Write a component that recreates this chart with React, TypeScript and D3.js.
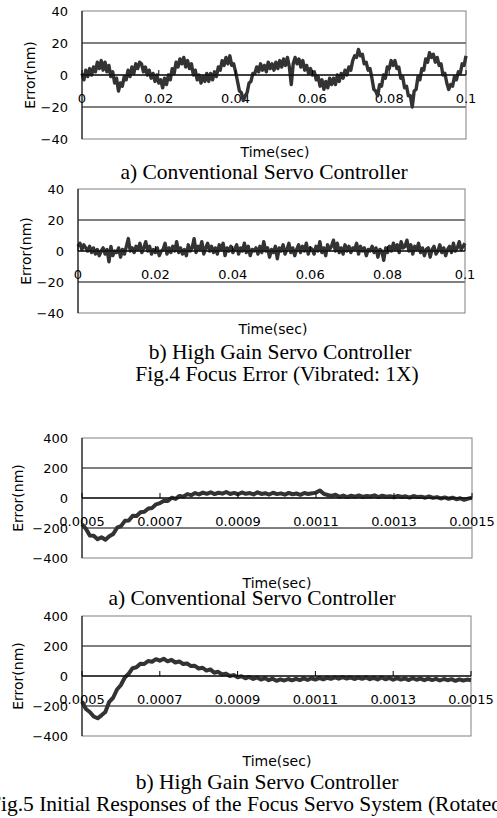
import * as d3 from 'd3';
import React from 'react';

// Fig.4 focus error, vibrated 1X: samples every 0.5 ms from 0 to 0.1 s (nm)
const fig4Conventional = [
  1, -3, 3, -1, 4, 0, 5, 2, 8, 4, 9,
  3, 8, 2, 6, -1, 2, -5, -2, -10, -5,
  -7, -1, -3, 3, -1, 5, 1, 7, 4, 8,
  7, 2, 5, 0, 3, -2, 1, -4, 0, -5,
  -3, -8, -2, -6, 0, -3, 4, 1, 8, 5,
  10, 7, 11, 5, 9, 4, 7, 0, 3, -3,
  0, -5, -1, -4, 1, -4, 1, -3, 2, -1,
  5, 3, 9, 6, 11, 7, 12, 6, 7, 2,
  -4, -10, -11, -16, -13, -11, -5, -4, 1, 1,
  5, 2, 7, 3, 6, 2, 8, 4, 7, 3,
  8, 4, 9, 5, 10, 6, 11, 5, -6, 7,
  11, 7, 10, 5, 9, 3, 6, 1, 4, 0,
  2, -3, -1, -7, -3, -9, -4, -8, -2, -6,
  -2, -6, 0, -4, 1, -2, 3, 0, 5, 3,
  9, 12, 11, 16, 12, 13, 7, 8, 3, 4,
  -2, -9, -10, -13, -6, -7, 0, -2, 5, 4,
  9, 6, 9, 4, 5, -2, -1, -8, -7, -13,
  -13, -20, -10, -9, -1, -3, 4, 3, 10, 8,
  14, 11, 13, 8, 11, 6, 7, 0, 1, -5,
  -9, -6, -7, -1, -3, 2, 1, 7, 6, 12,
];

const fig4HighGain = [
  3, 5, 1, 4, 2, 0, 3, -1, 2, -2, 1,
  -3, 0, 2, -2, 1, -7, 3, -3, 0, -1,
  2, -4, 1, -2, 3, 8, 0, 2, -1, 3,
  1, 5, -1, 2, 6, 0, 3, -2, 1, -1,
  2, -3, 0, 1, 5, -2, 2, -1, 3, 0,
  6, -1, 2, -2, 1, -3, 4, 0, 2, 8,
  -1, 3, 1, 6, -2, 2, 5, 0, 3, -1,
  2, -2, 4, 1, 5, -3, 2, 0, 3, -1,
  1, 4, -2, 2, 0, 5, -1, 3, -3, 1,
  0, 2, -2, 3, -1, 6, 0, 2, -4, 1,
  -1, 3, -5, 2, 0, 4, -2, 1, 5, -1,
  2, -3, 1, 4, -1, 3, 0, 5, -2, 2,
  1, -2, 3, 0, 6, -1, 2, -3, 4, 1,
  3, 7, 0, 5, -1, 2, -2, 4, 0, 3,
  -1, 2, 1, 5, -2, 3, 0, 2, -3, 1,
  0, 3, -1, 2, -4, 1, 0, -6, 2, -1,
  3, 0, 5, 1, 4, -1, 6, 2, 3, 7,
  0, 4, -2, 3, 1, 5, -1, 2, -3, 1,
  2, -4, 1, 3, -2, 0, 4, -1, 2, -3,
  1, 3, -1, 5, 0, 2, 6, 1, 3, 5,
];

const fig4Start = 0;
const fig4Step = 0.0005;
const fig4XTicks = [0, 0.02, 0.04, 0.06, 0.08, 0.1];
const fig4XLabels = ['0', '0.02', '0.04', '0.06', '0.08', '0.1'];
const fig4YTicks = [40, 20, 0, -20, -40];

// Fig.5 initial response, rotated 1X: samples every 10 us from 0.5 ms to 1.5 ms (nm)
const fig5Conventional = [
  -175, -205, -250, -252, -275, -262, -278, -255, -240, -198,
  -188, -152, -150, -118, -120, -95, -92, -70, -66, -42,
  -34, -18, -20, 2, -6, 14, 9, 26, 19, 33,
  24, 36, 28, 38, 26, 35, 29, 40, 27, 34,
  25, 37, 28, 33, 24, 38, 27, 32, 23, 35,
  26, 31, 22, 34, 25, 30, 21, 33, 27, 31,
  36, 50, 28, 20, 14, 22, 8, 16, 6, 15,
  9, 17, 7, 14, 10, 18, 6, 15, 8, 12,
  5, 14, 7, 11, 3, 13, 6, 9, 2, 10,
  1, 6, -3, 4, -5, 2, -8, -2, -12, -4, 2,
];

const fig5HighGain = [
  -170, -220, -240, -270, -282, -262, -240, -172, -145, -90,
  -60, -10, 15, 52, 58, 82, 80, 100, 95, 112,
  102, 115, 98, 108, 90, 97, 80, 84, 66, 68,
  50, 55, 36, 44, 22, 28, 10, 16, 0, 6,
  -8, -2, -15, -6, -20, -10, -24, -14, -28, -18,
  -32, -22, -30, -20, -29, -19, -27, -16, -26, -15,
  -24, -13, -22, -12, -19, -9, -18, -8, -17, -10,
  -20, -11, -19, -9, -21, -12, -23, -10, -22, -13,
  -25, -14, -24, -16, -27, -15, -25, -17, -28, -18,
  -27, -19, -30, -20, -28, -21, -32, -22, -30, -24, -28,
];

const fig5Start = 0.0005;
const fig5Step = 0.00001;
const fig5XTicks = [0.0005, 0.0007, 0.0009, 0.0011, 0.0013, 0.0015];
const fig5XLabels = ['0.0005', '0.0007', '0.0009', '0.0011', '0.0013', '0.0015'];
const fig5YTicks = [400, 200, 0, -200, -400];

const sans = '"DejaVu Sans", sans-serif';
const serif = '"Liberation Serif", "Times New Roman", serif';

const fmtY = (v: number) => (v < 0 ? '\u2212' + Math.abs(v) : String(v));

function Panel({ values, t0, dt, xTicks, xLabels, yTicks, left, right, top, bottom, titleX, timeX, timeY, lineWidth }) {
  const x = d3.scaleLinear().domain([xTicks[0], xTicks[xTicks.length - 1]]).range([left, right]);
  const y = d3.scaleLinear().domain([yTicks[yTicks.length - 1], yTicks[0]]).range([bottom, top]);
  const line = d3.line<number>()
    .x((d, i) => x(t0 + i * dt))
    .y(d => y(d));
  const y0 = y(0);

  return (
    <g>
      {/* interior gridlines */}
      {yTicks.slice(1, -1).map(v => (
        <line key={v} x1={left} x2={right} y1={y(v)} y2={y(v)} stroke="#000" strokeWidth={1} />
      ))}
      <rect x={left} y={top} width={right - left} height={bottom - top} fill="none" stroke="#808080" strokeWidth={1} />
      {yTicks.map(v => (
        <text key={v} x={left - 14} y={y(v)} textAnchor="end" dominantBaseline="central"
          fontFamily={sans} fontSize={13}>{fmtY(v)}</text>
      ))}
      {xTicks.map((v, i) => (
        <text key={v} x={x(v)} y={y0 + 28} textAnchor="middle" fontFamily={sans} fontSize={13}>{xLabels[i]}</text>
      ))}
      <path d={line(values) ?? ''} fill="none" stroke="#333" strokeWidth={lineWidth} strokeLinejoin="round" />
      <line x1={left} x2={left} y1={top} y2={bottom} stroke="#000" strokeWidth={1} />
      <line x1={left} x2={right} y1={y0} y2={y0} stroke="#000" strokeWidth={1} />
      {xTicks.map(v => (
        <line key={v} x1={x(v)} x2={x(v)} y1={y0} y2={y0 - 5} stroke="#000" strokeWidth={1} />
      ))}
      <text transform={`translate(${titleX},${(top + bottom) / 2}) rotate(-90)`} textAnchor="middle"
        dominantBaseline="central" fontFamily={sans} fontSize={14}>Error(nm)</text>
      <text x={timeX} y={timeY} textAnchor="middle" fontFamily={sans} fontSize={14}>Time(sec)</text>
    </g>
  );
}

export default function App() {
  const width = 497;
  const height = 818;
  const cap = { fontFamily: serif, fontSize: 21.5 };

  return (
    <svg width={width} height={height} style={{ position: 'absolute', left: 0, top: 0, background: '#fff' }}>
      <Panel values={fig4Conventional} t0={fig4Start} dt={fig4Step} xTicks={fig4XTicks} xLabels={fig4XLabels}
        yTicks={fig4YTicks} left={82} right={466} top={11} bottom={139} titleX={30} timeX={275} timeY={157} lineWidth={3.4} />
      <text x={264} y={179} textAnchor="middle" {...cap}>a) Conventional Servo Controller</text>

      <Panel values={fig4HighGain} t0={fig4Start} dt={fig4Step} xTicks={fig4XTicks} xLabels={fig4XLabels}
        yTicks={fig4YTicks} left={78} right={465} top={189} bottom={313} titleX={26} timeX={273} timeY={334} lineWidth={3.4} />
      <text x={280} y={359} textAnchor="middle" {...cap}>b) High Gain Servo Controller</text>
      <text x={277} y={381} textAnchor="middle" {...cap}>Fig.4 Focus Error (Vibrated: 1X)</text>

      <Panel values={fig5Conventional} t0={fig5Start} dt={fig5Step} xTicks={fig5XTicks} xLabels={fig5XLabels}
        yTicks={fig5YTicks} left={82} right={472} top={438} bottom={558} titleX={18} timeX={277} timeY={588} lineWidth={4} />
      <text x={252} y={605} textAnchor="middle" {...cap}>a) Conventional Servo Controller</text>

      <Panel values={fig5HighGain} t0={fig5Start} dt={fig5Step} xTicks={fig5XTicks} xLabels={fig5XLabels}
        yTicks={fig5YTicks} left={82} right={471} top={616} bottom={736} titleX={18} timeX={277} timeY={766} lineWidth={4} />
      <text x={267} y={789} textAnchor="middle" {...cap}>b) High Gain Servo Controller</text>
      <text x={-11} y={811} {...cap}>Fig.5 Initial Responses of the Focus Servo System (Rotated: 1X)</text>
    </svg>
  );
}
